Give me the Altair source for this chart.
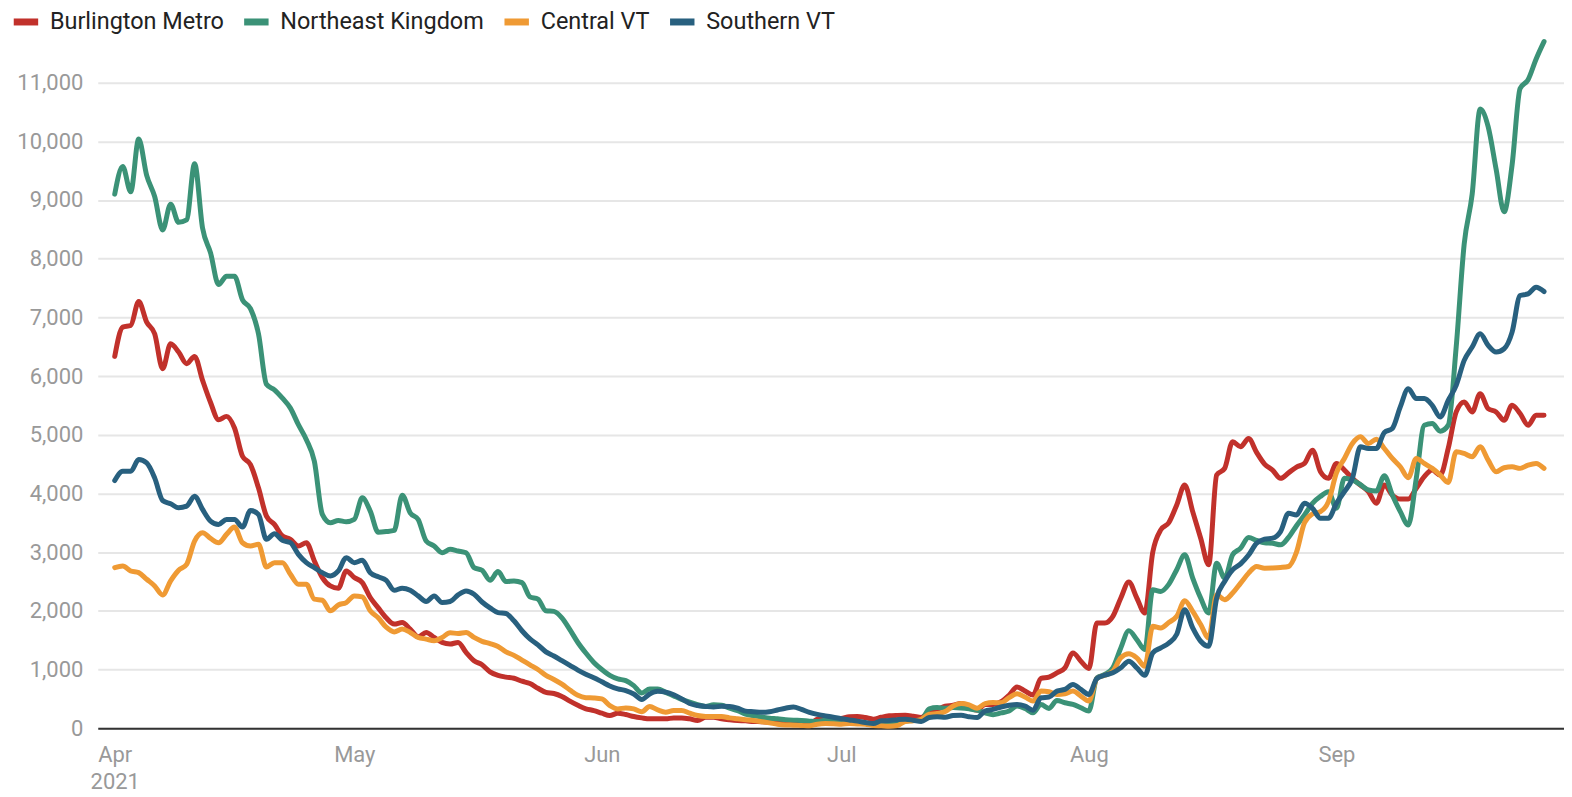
import altair as alt
import pandas as pd

START = "2021-04-01"
N_DAYS = 180

SERIES = ["Burlington Metro", "Northeast Kingdom", "Central VT", "Southern VT"]
COLORS = ["#c1312b", "#3b9277", "#ef9a34", "#28607f"]

burlington = [
    6335, 6834, 6862, 7270, 6919, 6720, 6126, 6551, 6409, 6211,
    6335, 5927, 5550, 5256, 5313, 5115, 4633, 4492, 4095, 3614,
    3472, 3274, 3217, 3104, 3160, 2849, 2566, 2424, 2385, 2679,
    2566, 2480, 2226, 2050, 1880, 1773, 1800, 1688, 1558, 1631,
    1546, 1461, 1433, 1461, 1291, 1150, 1080, 960, 900, 870,
    850, 800, 760, 680, 610, 590, 540, 460, 390, 330,
    300, 255, 215, 255, 232, 198, 175, 159, 159, 159,
    175, 175, 159, 130, 187, 187, 159, 142, 130, 125,
    113, 110, 100, 96, 85, 75, 60, 57, 150, 153,
    153, 165, 195, 200, 181, 153, 185, 210, 218, 221,
    204, 181, 283, 317, 374, 390, 419, 362, 306, 405,
    405, 450, 560, 700, 632, 564, 847, 869, 943, 1028,
    1283, 1141, 1017, 1793, 1793, 1906, 2218, 2490, 2218, 1963,
    3000, 3379, 3500, 3803, 4143, 3690, 3237, 2784, 4313, 4427,
    4880, 4795, 4936, 4700, 4500, 4398, 4257, 4350, 4450, 4511,
    4738, 4370, 4257, 4511, 4398, 4257, 4143, 4030, 3832, 4143,
    3973, 3905, 3905, 4087, 4285, 4398, 4313, 4766, 5389, 5559,
    5389, 5700, 5446, 5389, 5247, 5502, 5361, 5162, 5332, 5332,
]

northeast = [
    9100, 9570, 9140, 10040, 9420, 9060, 8490, 8930, 8620, 8660,
    9620, 8520, 8100, 7560, 7700, 7700, 7300, 7150, 6720, 5860,
    5766, 5624, 5454, 5171, 4916, 4548, 3642, 3500, 3540, 3517,
    3557, 3925, 3698, 3340, 3350, 3370, 3970, 3670, 3557, 3189,
    3104, 2990, 3047, 3019, 2990, 2736, 2690, 2520, 2668, 2498,
    2509, 2480, 2237, 2198, 2000, 1990, 1880, 1680, 1460, 1280,
    1120, 1000, 900, 840, 810, 725, 600, 668, 668, 610,
    550, 490, 442, 400, 370, 400, 390, 340, 300, 240,
    210, 190, 170, 160, 145, 136, 130, 120, 113, 136,
    125, 113, 105, 96, 88, 79, 96, 105, 113, 120,
    130, 136, 330, 351, 340, 350, 345, 330, 306, 260,
    230, 260, 292, 377, 337, 263, 405, 337, 473, 433,
    405, 348, 292, 858, 915, 1028, 1368, 1662, 1510, 1340,
    2359, 2330, 2450, 2700, 2954, 2557, 2217, 1963, 2812, 2557,
    2954, 3067, 3248, 3200, 3160, 3152, 3124, 3250, 3450, 3634,
    3832, 3950, 4030, 3747, 4257, 4228, 4150, 4058, 4041, 4302,
    3973, 3690, 3463, 4257, 5162, 5191, 5061, 5162, 6500, 8250,
    9100, 10550, 10250, 9524, 8800, 9600, 10900, 11050, 11400, 11700,
]

central = [
    2736, 2764, 2679, 2650, 2537, 2424, 2271, 2509, 2690, 2792,
    3189, 3330, 3234, 3160, 3302, 3427, 3160, 3104, 3132, 2747,
    2820, 2820, 2622, 2452, 2452, 2198, 2180, 2000, 2100, 2140,
    2254, 2237, 2000, 1880, 1720, 1640, 1688, 1631, 1546, 1518,
    1490, 1546, 1625, 1614, 1631, 1546, 1480, 1440, 1390, 1300,
    1240, 1160, 1080, 1000, 900, 830, 750, 650, 560, 520,
    515, 498, 385, 328, 345, 328, 280, 368, 311, 272,
    300, 300, 255, 215, 200, 198, 198, 175, 160, 145,
    130, 110, 90, 68, 55, 51, 45, 40, 68, 79,
    75, 68, 79, 72, 68, 45, 40, 34, 45, 113,
    125, 153, 238, 249, 283, 379, 419, 396, 340, 419,
    436, 433, 520, 586, 530, 462, 632, 620, 575, 586,
    632, 547, 462, 847, 903, 971, 1198, 1266, 1198, 1056,
    1736, 1708, 1800, 1906, 2172, 1991, 1765, 1538, 2274, 2189,
    2302, 2472, 2642, 2755, 2727, 2730, 2738, 2755, 3000, 3500,
    3650, 3690, 3860, 4350, 4596, 4851, 4964, 4851, 4925, 4766,
    4596, 4455, 4268, 4596, 4511, 4427, 4313, 4188, 4710, 4681,
    4625, 4795, 4568, 4370, 4438, 4455, 4427, 4483, 4511, 4427,
]

southern = [
    4220, 4378, 4378, 4577, 4520, 4265, 3880, 3823, 3755, 3783,
    3953, 3727, 3529, 3472, 3557, 3557, 3427, 3710, 3642, 3217,
    3313, 3200, 3160, 2962, 2820, 2736, 2650, 2594, 2679, 2906,
    2820, 2860, 2650, 2580, 2520, 2350, 2385, 2350, 2254, 2158,
    2254, 2141, 2158, 2271, 2339, 2283, 2150, 2050, 1970, 1954,
    1830, 1660, 1520, 1420, 1300, 1230, 1150, 1070, 990, 920,
    860, 790, 720, 670, 640, 583, 490, 583, 629, 615,
    570, 500, 420, 385, 370, 360, 375, 370, 340, 290,
    280, 270, 280, 310, 340, 362, 320, 270, 235, 210,
    185, 160, 140, 120, 95, 79, 125, 130, 145, 153,
    136, 113, 181, 193, 185, 215, 220, 195, 181, 292,
    320, 360, 390, 405, 377, 303, 518, 530, 632, 660,
    745, 660, 575, 847, 903, 943, 1028, 1141, 1028, 900,
    1283, 1368, 1450, 1600, 2019, 1708, 1481, 1396, 2217, 2500,
    2699, 2800, 2950, 3150, 3220, 3237, 3350, 3662, 3634, 3832,
    3747, 3577, 3577, 3832, 4030, 4257, 4795, 4766, 4766, 5038,
    5106, 5474, 5786, 5616, 5616, 5502, 5304, 5587, 5842, 6267,
    6494, 6720, 6522, 6409, 6465, 6749, 7372, 7400, 7513, 7440,
]

Y_TICKS = list(range(0, 12000, 1000))
MONTHS = [4, 5, 6, 7, 8, 9]

dates = pd.date_range(START, periods=N_DAYS, freq="D").strftime("%Y-%m-%d").tolist()
rows = []
for name, vals in zip(SERIES, [burlington, northeast, central, southern]):
    for d, v in zip(dates, vals):
        rows.append({"date": d, "value": v, "region": name})
df = pd.DataFrame(rows)

FONT = "Roboto"

chart = (
    alt.Chart(df)
    .mark_line(strokeWidth=5, interpolate="monotone", strokeCap="round", strokeJoin="round")
    .encode(
        x=alt.X(
            "date:T",
            title=None,
            scale=alt.Scale(
                type="utc",
                domain=[
                    alt.DateTime(year=2021, month=3, date=29, hours=21, utc=True),
                    alt.DateTime(year=2021, month=9, date=29, hours=12, utc=True),
                ],
            ),
            axis=alt.Axis(
                values=[alt.DateTime(year=2021, month=m, date=1, utc=True) for m in MONTHS],
                labelExpr="utcmonth(datum.value) == 3 ? [utcFormat(datum.value, '%b'), '2021'] : utcFormat(datum.value, '%b')",
                labelFont=FONT,
                labelFontSize=22,
                labelColor="#999999",
                labelLineHeight=28,
                labelPadding=16,
                labelAlign="center",
                labelBound=False,
                ticks=False,
                grid=False,
                domainColor="#333333",
                domainWidth=2,
            ),
        ),
        y=alt.Y(
            "value:Q",
            title=None,
            scale=alt.Scale(domain=[0, 12000], nice=False),
            axis=alt.Axis(
                values=Y_TICKS,
                format=",d",
                labelFont=FONT,
                labelFontSize=22,
                labelColor="#999999",
                labelPadding=15,
                ticks=False,
                domain=False,
                gridColor="#e6e6e6",
                gridWidth=2,
            ),
        ),
        color=alt.Color(
            "region:N",
            scale=alt.Scale(domain=SERIES, range=COLORS),
            legend=alt.Legend(
                title=None,
                orient="none",
                direction="horizontal",
                legendX=-88,
                legendY=-18,
                symbolType="stroke",
                symbolStrokeWidth=7,
                symbolSize=600,
                labelFont=FONT,
                labelFontSize=23.5,
                labelColor="#222222",
                labelOffset=8,
                labelLimit=0,
                columnPadding=5,
                padding=0,
            ),
        ),
        order=alt.Order("date:T"),
    )
    .properties(
        width=1470,
        height=706,
        autosize=alt.AutoSizeParams(type="none"),
        padding={"left": 90, "top": 15, "right": 0, "bottom": 66},
    )
    .configure_view(stroke=None)
)

chart.save("out.html", embed_options={"renderer": "svg", "actions": False})
